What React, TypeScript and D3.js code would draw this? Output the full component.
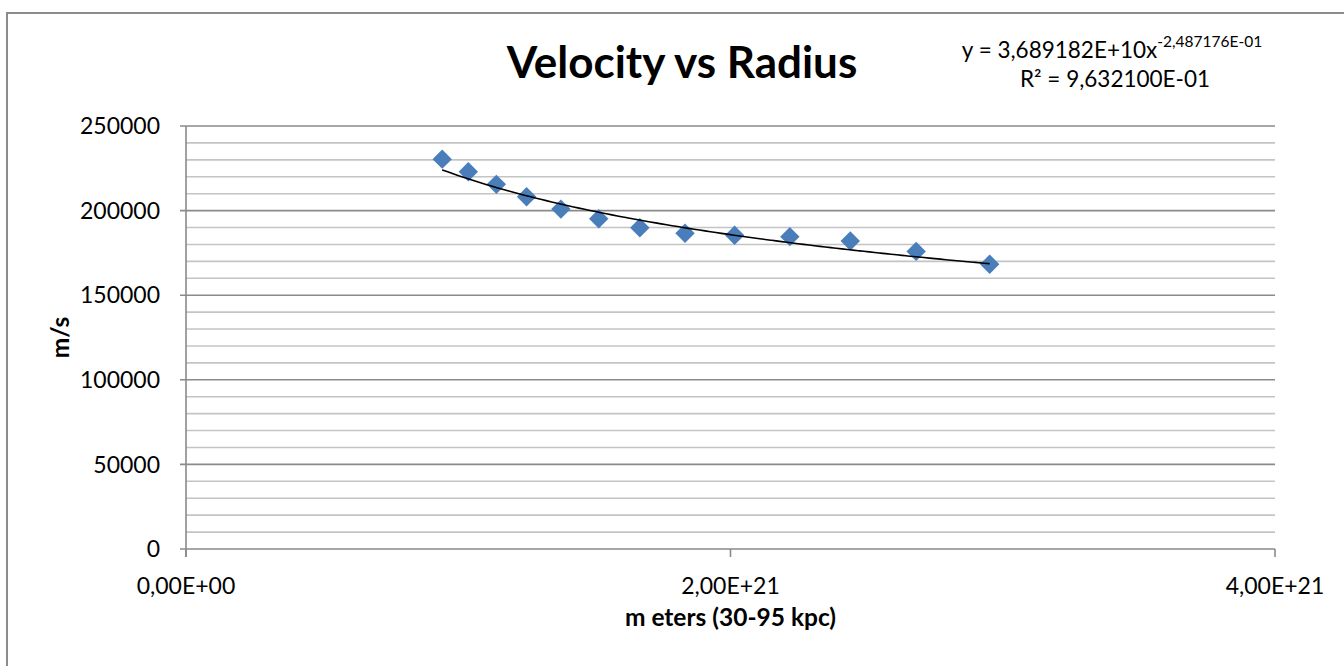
import React from 'react';
import * as d3 from 'd3';

// radius in meters (30-95 kpc), velocity in m/s
const radius = [
  0.941e21, 1.037e21, 1.14e21, 1.251e21, 1.377e21, 1.516e21, 1.667e21,
  1.833e21, 2.015e21, 2.218e21, 2.44e21, 2.682e21, 2.952e21
];
const velocity = [
  230400, 223000, 215500, 208200, 200900, 195200, 189900,
  186600, 185400, 184600, 182000, 175900, 168300
];

const yTicks = [0, 50000, 100000, 150000, 200000, 250000];
const xTicks = [0, 2e21, 4e21];

// power trendline, as printed in the chart
const trendA = 3.689182e10;
const trendB = -2.487176e-1;
const trendText = 'y = 3,689182E+10x';
const trendExp = '-2,487176E-01';
const r2Text = 'R² = 9,632100E-01';

const title = 'Velocity vs Radius';
const xTitle = 'm eters (30-95 kpc)';
const yTitle = 'm/s';

const font = 'Lato, "Open Sans", sans-serif';

// 2e21 -> "2,00E+21"
function sci(v: number) {
  const [m, e] = v.toExponential(2).split('e');
  const sign = e[0] === '-' ? '-' : '+';
  const digits = e.replace(/[+-]/, '').padStart(2, '0');
  return m.replace('.', ',') + 'E' + sign + digits;
}

export default function App() {
  const W = 1344;
  const H = 666;
  const plot = { left: 186, right: 1275, top: 126, bottom: 549 };

  const x = d3.scaleLinear().domain([0, 4e21]).range([plot.left, plot.right]);
  const y = d3.scaleLinear().domain([0, 250000]).range([plot.bottom, plot.top]);

  const minorTicks = d3.range(0, 250001, 10000).filter(v => v % 50000 !== 0);

  // trendline sampled between first and last radius
  const rMin = d3.min(radius) as number;
  const rMax = d3.max(radius) as number;
  const trendPts = d3.range(0, 101).map(i => {
    const r = rMin + (rMax - rMin) * i / 100;
    return [r, trendA * Math.pow(r, trendB)] as [number, number];
  });
  const trendLine = d3.line<[number, number]>()
    .x(d => x(d[0]))
    .y(d => y(d[1]))
    .curve(d3.curveBasis)(trendPts) || '';

  const diamond = d3.symbol().type(d3.symbolDiamond2).size(240)() || '';

  const midY = (plot.top + plot.bottom) / 2;
  const midX = (plot.left + plot.right) / 2;

  return (
    <div style={{ position: 'absolute', left: 0, top: 0 }}>
      <svg width={W} height={H} style={{ display: 'block', background: '#fff' }}>
        <rect x={7} y={13} width={1400} height={700} fill="#fff" stroke="#8c8c8c" strokeWidth={2} />

        {/* minor gridlines */}
        {minorTicks.map(v => (
          <line key={'m' + v} x1={plot.left} x2={plot.right} y1={y(v)} y2={y(v)}
            stroke="#c4c4c4" strokeWidth={1.6} />
        ))}
        {/* major gridlines + ticks */}
        {yTicks.map(v => (
          <g key={'M' + v}>
            <line x1={plot.left - 6} x2={plot.right} y1={y(v)} y2={y(v)}
              stroke="#8a8a8a" strokeWidth={1.6} />
            <text x={160} y={y(v)} dy="0.36em" textAnchor="end"
              fontFamily={font} fontSize={23} fill="#000">{v}</text>
          </g>
        ))}

        {/* axes */}
        <line x1={plot.left} x2={plot.left} y1={plot.top} y2={plot.bottom + 8}
          stroke="#8a8a8a" strokeWidth={1.6} />
        {xTicks.map(v => (
          <g key={'x' + v}>
            <line x1={x(v)} x2={x(v)} y1={plot.bottom} y2={plot.bottom + 8}
              stroke="#8a8a8a" strokeWidth={1.6} />
            <text x={x(v)} y={594} textAnchor="middle"
              fontFamily={font} fontSize={23} fill="#000">{sci(v)}</text>
          </g>
        ))}

        {/* points */}
        {radius.map((r, i) => (
          <path key={'p' + i} d={diamond}
            transform={`translate(${x(r)},${y(velocity[i])})`}
            fill="#4a7ebb" />
        ))}

        <path d={trendLine} fill="none" stroke="#000" strokeWidth={1.6} />

        {/* titles */}
        <text x={682} y={78} textAnchor="middle" fontFamily={font}
          fontWeight="bold" fontSize={44} fill="#000">{title}</text>
        <text x={midX} y={626} textAnchor="middle" fontFamily={font}
          fontWeight="bold" fontSize={24.5} fill="#000">{xTitle}</text>
        <text transform={`translate(69,${midY}) rotate(-90)`} textAnchor="middle"
          fontFamily={font} fontWeight="bold" fontSize={24.5} fill="#000">{yTitle}</text>

        {/* trendline label */}
        <text x={1112} y={58} textAnchor="middle" fontFamily={font} fontSize={22.5} fill="#000">
          {trendText}
          <tspan fontSize={15.5} dy={-11}>{trendExp}</tspan>
        </text>
        <text x={1115} y={87} textAnchor="middle" fontFamily={font} fontSize={22.5} fill="#000">
          {r2Text}
        </text>
      </svg>
    </div>
  );
}
